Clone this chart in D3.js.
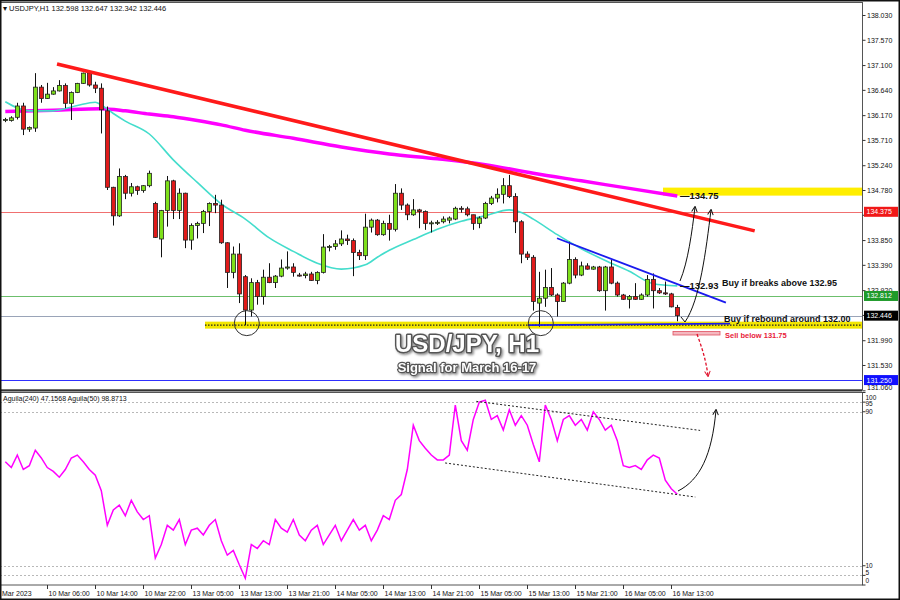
<!DOCTYPE html>
<html><head><meta charset="utf-8">
<script src="https://cdn.jsdelivr.net/npm/d3@7"></script>
<style>
body{margin:0;background:#fff}
svg{display:block}
text{font-family:"Liberation Sans",Arial,sans-serif}
</style>
</head><body><svg id="c" width="900" height="600"></svg>
<script>
// ---- DATA ----
const opens=[136.08,136.07,136.13,136.34,135.91,135.93,136.69,136.48,136.56,136.62,136.72,136.39,136.59,136.76,136.95,136.73,136.67,136.25,134.83,134.30,135.03,134.72,134.84,134.77,134.86,134.53,133.87,134.40,134.95,134.40,134.72,133.85,134.12,134.16,134.38,134.53,134.50,133.80,133.25,133.59,133.17,132.55,133.06,132.80,133.16,133.06,133.18,133.33,133.35,133.20,133.19,133.22,133.10,133.25,133.72,133.73,133.78,133.87,133.84,133.62,133.56,134.09,134.22,133.95,134.16,134.05,134.72,134.50,134.32,134.41,134.38,134.16,134.17,134.19,134.22,134.24,134.44,134.43,134.32,134.16,134.26,134.53,134.63,134.70,134.86,134.66,134.19,133.59,133.53,132.68,132.77,132.97,132.83,132.71,133.05,133.49,133.20,133.37,133.31,133.35,132.91,133.35,133.05,132.83,132.75,132.80,132.75,132.83,133.12,132.91,132.87,132.85,132.598];
const highs=[136.12,136.15,136.40,136.40,135.96,136.95,136.73,136.77,136.69,136.82,136.76,136.61,136.77,136.96,136.98,136.79,136.76,136.33,134.84,135.18,135.06,134.91,134.86,134.87,135.14,134.56,134.41,135.04,134.97,134.81,134.73,134.16,134.19,134.41,134.55,134.69,134.60,133.81,133.73,133.79,133.20,133.14,133.11,133.30,133.42,133.20,133.49,133.64,133.42,133.24,133.26,133.26,133.27,133.96,133.76,133.85,134.03,133.95,133.88,133.67,134.34,134.25,134.24,134.21,134.32,134.89,134.81,134.53,134.61,134.43,134.40,134.21,134.22,134.29,134.29,134.47,134.48,134.47,134.32,134.29,134.56,134.67,134.81,135.00,135.06,134.72,134.22,133.64,133.57,133.26,133.30,133.33,132.86,133.07,133.82,133.53,133.45,133.42,133.37,133.37,133.37,133.48,133.08,132.85,132.83,133.05,132.86,133.20,133.23,132.96,133.08,132.87,132.647];
const lows=[136.04,136.05,136.09,135.80,135.86,135.86,136.40,136.47,136.55,136.61,136.30,136.08,136.58,136.75,136.70,136.58,135.83,134.78,134.12,134.28,134.61,134.66,134.69,134.73,134.83,133.89,133.53,134.10,134.24,134.24,133.70,133.67,133.88,133.98,134.11,134.35,133.78,132.96,133.14,132.68,132.27,132.43,132.65,132.65,133.05,132.96,133.16,133.30,133.17,133.17,133.14,133.09,133.03,133.23,133.64,133.67,133.74,133.76,133.18,133.48,133.48,133.99,133.93,133.93,133.84,134.01,134.41,134.22,134.30,134.07,134.04,133.99,134.13,134.16,134.16,134.22,134.36,134.29,134.04,134.07,134.24,134.50,134.55,134.53,134.63,133.98,133.42,133.48,132.54,132.24,132.61,132.81,132.43,132.70,133.03,133.14,133.18,133.30,133.30,132.89,132.54,133.03,132.80,132.74,132.58,132.74,132.74,132.80,132.58,132.85,132.83,132.60,132.342];
const closes=[136.09,136.12,136.34,135.91,135.94,136.69,136.48,136.56,136.62,136.72,136.39,136.59,136.76,136.95,136.73,136.67,136.27,134.83,134.30,135.03,134.72,134.84,134.77,134.86,135.09,133.90,134.40,134.95,134.40,134.72,133.85,134.12,134.16,134.38,134.53,134.50,133.80,133.25,133.59,132.85,132.55,133.06,132.80,133.16,133.06,133.18,133.33,133.35,133.25,133.19,133.22,133.10,133.25,133.72,133.73,133.78,133.87,133.84,133.62,133.56,134.09,134.22,133.95,134.16,134.05,134.72,134.50,134.32,134.41,134.38,134.16,134.17,134.18,134.24,134.26,134.44,134.43,134.32,134.16,134.26,134.53,134.63,134.70,134.86,134.66,134.19,133.59,133.53,132.71,132.77,132.97,132.83,132.71,133.05,133.49,133.20,133.37,133.31,133.35,132.91,133.35,133.05,132.83,132.75,132.80,132.75,132.83,133.12,132.91,132.87,132.85,132.61,132.446];

const maFastIdx=[0,4,8,12,15,16,18,20,24,28,32,36,40,44,48,52,56,60,62,64,68,72,76,80,84,86,88,92,96,100,104,108,112];
const maFastVal=[136.42,136.25,136.25,136.35,136.41,136.36,136.20,136.06,135.82,135.34,134.92,134.52,134.24,133.89,133.64,133.42,133.31,133.39,133.53,133.66,133.86,134.05,134.20,134.30,134.41,134.36,134.24,133.95,133.69,133.47,133.27,133.04,133.00];
const maSlowIdx=[0,8,16,20,24,28,32,36,40,48,56,64,72,80,88,96,104,112];
const maSlowVal=[136.24,136.26,136.29,136.25,136.19,136.14,136.07,135.99,135.89,135.74,135.58,135.45,135.36,135.25,135.09,134.95,134.81,134.67];

const aguila=[64,61,67.5,60,62,70,66,61,59,56,60,66,67.5,64,60,57,49,31,39,41.5,36,44,38,34,36,14,21,31,28.5,34,21,28.5,29.5,26,31,34,23,15.5,18,10.5,3.5,21,19,23,21,34,29.5,27.5,34,26,23,28.5,31,21,26,31,23,28.5,34,28.5,31,23,28.5,36,34,44,47,60,83,75,71,67.5,65,65,67.5,93.5,75,70,86,95,96,86,88,80.5,91,83,88,83,73,64,93.5,86,75,86,88,83,86,80.5,90,86,80.5,83,75,62,61,62,60,65,67.5,66,54.5,50,47.16];

const priceTicks=[138.030,137.570,137.100,136.640,136.170,135.710,135.240,134.780,134.320,133.850,133.390,132.920,132.460,131.990,131.530,131.060];
const hiddenTicks=[134.320,132.460];
const timeTickIdx=[7,15,23,31,39,47,55,63,71,79,87,95,103,111];
const timeTickLabels=["10 Mar 06:00","10 Mar 14:00","10 Mar 22:00","13 Mar 05:00","13 Mar 13:00","13 Mar 21:00","14 Mar 05:00","14 Mar 13:00","14 Mar 21:00","15 Mar 05:00","15 Mar 13:00","15 Mar 21:00","16 Mar 05:00","16 Mar 13:00"];
const aguilaTicks=[100,95,90,10,5,0];
const aguilaLevels=[95,90,10,5];

const lastPrice=132.446, redLevel=134.375, greenLevel=132.812, blueLevel=131.250;
const supportLevel=132.27, targetLevel=134.75;
const redTrend=[[8.62,137.12],[124.9,134.02]];
const blueTrend=[[91.95,133.884],[120.1,132.688]];
const blueBase=[[87.1,132.27],[120.8,132.30]];
const aguilaUpper=[[78.5,95.4],[115.8,80.3]];
const aguilaLower=[[73.3,63.4],[115,45.7]];

// ---- SCALES ----
const svg=d3.select("#c");
const W=900,H=600, PR=862;
const x=d3.scaleLinear().domain([0,112]).range([5.3,677.3]);
const y=d3.scaleLinear().domain([131.06,138.03]).range([390.3,15]);
const yi=d3.scaleLinear().domain([0,100]).range([585,392.5]);

svg.append("rect").attr("width",W).attr("height",H).attr("fill","#fff");
const defs=svg.append("defs");
defs.append("clipPath").attr("id","cm").append("rect").attr("x",1).attr("y",3).attr("width",PR-1).attr("height",387);
defs.append("clipPath").attr("id","ci").append("rect").attr("x",1).attr("y",392).attr("width",PR-1).attr("height",193);
function mk(id,col){defs.append("marker").attr("id",id).attr("viewBox","0 0 10 10").attr("refX",8).attr("refY",5)
 .attr("markerWidth",7).attr("markerHeight",7).attr("orient","auto-start-reverse").attr("markerUnits","userSpaceOnUse")
 .append("path").attr("d","M1,1 L9,5 L1,9").attr("fill","none").attr("stroke",col).attr("stroke-width",1.4);}
mk("ab","#111");mk("ar","#e0102a");
const sh=defs.append("filter").attr("id","sh").attr("x","-10%").attr("y","-30%").attr("width","130%").attr("height","170%");
sh.append("feDropShadow").attr("dx",1.5).attr("dy",1.5).attr("stdDeviation",1).attr("flood-color","#000").attr("flood-opacity",0.45);

const main=svg.append("g").attr("clip-path","url(#cm)");
// horizontal lines
const hl=[[redLevel,"#f07070"],[greenLevel,"#6cbf6c"],[lastPrice,"#9aa4b8"],[blueLevel,"#3030ff"]];
hl.forEach(([v,c])=>main.append("line").attr("x1",0).attr("x2",PR).attr("y1",Math.round(y(v))+0.5).attr("y2",Math.round(y(v))+0.5).attr("stroke",c).attr("stroke-width",1));
// yellow target box
main.append("rect").attr("x",663).attr("y",y(targetLevel)-4).attr("width",PR-663).attr("height",8).attr("fill","#ffee00");
// yellow support band
main.append("rect").attr("x",205).attr("y",y(supportLevel)-3.5).attr("width",PR-205).attr("height",7).attr("fill","#f2e600");
main.append("line").attr("x1",205).attr("x2",PR).attr("y1",y(supportLevel)).attr("y2",y(supportLevel)).attr("stroke","#222").attr("stroke-width",1.4).attr("stroke-dasharray","1.5,1.5");

// moving averages
const lineGen=d3.line().x(d=>x(d[0])).y(d=>y(d[1])).curve(d3.curveMonotoneX);
main.append("path").attr("d",lineGen(maSlowIdx.map((d,i)=>[d,maSlowVal[i]]))).attr("fill","none").attr("stroke","#ff00ff").attr("stroke-width",3.5);
main.append("path").attr("d",lineGen(maFastIdx.map((d,i)=>[d,maFastVal[i]]))).attr("fill","none").attr("stroke","#44ddcc").attr("stroke-width",1.6);

// candles
const cg=main.append("g");
opens.forEach((o,i)=>{
  const cx=Math.round(x(i))+0.5, c=closes[i];
  cg.append("line").attr("x1",cx).attr("x2",cx).attr("y1",y(highs[i])).attr("y2",y(lows[i])).attr("stroke","#111").attr("stroke-width",1);
  const top=y(Math.max(o,c)), bot=y(Math.min(o,c));
  cg.append("rect").attr("x",cx-2).attr("y",top).attr("width",4).attr("height",Math.max(1,bot-top))
    .attr("fill",c>=o?"#7ee01a":"#e01a1a").attr("stroke","#222").attr("stroke-width",0.8);
});

// trendlines
const tl=(pts,col,w)=>main.append("line").attr("x1",x(pts[0][0])).attr("y1",y(pts[0][1])).attr("x2",x(pts[1][0])).attr("y2",y(pts[1][1])).attr("stroke",col).attr("stroke-width",w);
tl(redTrend,"#ff1a1a",3.5);
tl(blueTrend,"#1a1aee",1.8);
tl(blueBase,"#1a1aee",1.8);

// circles
[[40,supportLevel],[89,supportLevel]].forEach(([i,v])=>main.append("circle").attr("cx",x(i)+1.5).attr("cy",y(v)-2).attr("r",12.5).attr("fill","none").attr("stroke","#333").attr("stroke-width",1));

// arrows
main.append("path").attr("d","M680,281 C688,262 692,232 695,207").attr("fill","none").attr("stroke","#111").attr("stroke-width",1).attr("marker-end","url(#ab)");
main.append("path").attr("d","M681,317 L685,322 C700,300 706,250 711,210").attr("fill","none").attr("stroke","#111").attr("stroke-width",1).attr("marker-end","url(#ab)");
// sell box & arrow
main.append("rect").attr("x",673).attr("y",331.5).attr("width",47).attr("height",3.5).attr("fill","#f4b8c0").attr("stroke","#e05060").attr("stroke-width",0.8);
main.append("path").attr("d","M697,334 C702,348 706,360 708,376").attr("fill","none").attr("stroke","#e0102a").attr("stroke-width",1.3).attr("stroke-dasharray","3,2").attr("marker-end","url(#ar)");

// annotation texts
const at=(t,xx,yy,sz,col,wt)=>main.append("text").attr("x",xx).attr("y",yy).attr("font-size",sz).attr("font-weight",wt||"bold").attr("fill",col).text(t);
at("\u2014134.75",680,198.5,9.5,"#111");
at("\u2014132.93",680,289,9.5,"#111");
at("Buy if breaks above 132.95",722,285.5,9,"#111");
at("Buy if rebound around 132.00",724,321.5,9,"#111");
at("Sell below 131.75",725,337.5,7.5,"#e8203a");

// title
const tt=(t,yy,sz)=>{
  main.append("text").attr("x",467).attr("y",yy).attr("text-anchor","middle").attr("font-size",sz).attr("font-weight","bold")
   .attr("fill","#fff").attr("stroke","#555").attr("stroke-width",sz>15?3:2.4).attr("stroke-linejoin","round").attr("paint-order","stroke").attr("filter","url(#sh)").text(t);
};
tt("USD/JPY, H1",352,24);
tt("Signal for March 16-17",372,13);

// header text
svg.append("text").attr("x",3).attr("y",11).attr("font-size",7.5).attr("fill","#111").text("\u25BE USDJPY,H1  132.598 132.647 132.342 132.446");

// frames
svg.append("rect").attr("x",0.5).attr("y",2.5).attr("width",PR).attr("height",387.5).attr("fill","none").attr("stroke","#555").attr("stroke-width",1);
svg.append("line").attr("x1",0).attr("x2",PR).attr("y1",390.5).attr("y2",390.5).attr("stroke","#333").attr("stroke-width",2);
svg.append("rect").attr("x",0.5).attr("y",392.5).attr("width",PR).attr("height",192.5).attr("fill","none").attr("stroke","#555").attr("stroke-width",1);

// price axis
const pa=svg.append("g").attr("transform",`translate(${PR+0.5},0)`)
 .call(d3.axisRight(y).tickValues(priceTicks).tickSize(3).tickFormat(d=>hiddenTicks.includes(d)?"":d3.format(".3f")(d)));
pa.select(".domain").remove();
pa.selectAll("text").attr("font-size",7).attr("font-family","Liberation Sans, Arial").attr("fill","#111").attr("x",4.5);
pa.selectAll("line").attr("stroke","#333");
pa.selectAll(".tick").filter(d=>d===131.060).select("text").attr("dy","-0.1em");

// colored price labels
[[redLevel,"#f01818"],[greenLevel,"#1e9a2a"],[lastPrice,"#000"],[blueLevel,"#1010ff"]].forEach(([v,c])=>{
  svg.append("rect").attr("x",PR+2).attr("y",y(v)-5).attr("width",34).attr("height",10).attr("fill",c);
  svg.append("text").attr("x",PR+4.5).attr("y",y(v)+2.5).attr("font-size",7).attr("fill","#fff").text(d3.format(".3f")(v));
});

// indicator
const ind=svg.append("g").attr("clip-path","url(#ci)");
aguilaLevels.forEach(v=>ind.append("line").attr("x1",0).attr("x2",PR).attr("y1",Math.round(yi(v))+0.5).attr("y2",Math.round(yi(v))+0.5).attr("stroke","#b8b8b8").attr("stroke-dasharray","2,2"));
ind.append("path").attr("d",d3.line().x((d,i)=>x(i)).y(d=>yi(d))(aguila)).attr("fill","none").attr("stroke","#ff00ff").attr("stroke-width",1.5);
[aguilaUpper,aguilaLower].forEach(p=>ind.append("line").attr("x1",x(p[0][0])).attr("y1",yi(p[0][1])).attr("x2",x(p[1][0])).attr("y2",yi(p[1][1])).attr("stroke","#222").attr("stroke-width",1).attr("stroke-dasharray","2,2"));
ind.append("path").attr("d","M678,491 C700,480 712,455 716,410").attr("fill","none").attr("stroke","#111").attr("stroke-width",1).attr("marker-end","url(#ab)");
svg.append("text").attr("x",3).attr("y",401).attr("font-size",7).attr("fill","#111").text("Aguila(240) 47.1568  Aguila(50) 98.8713");
const ia=svg.append("g").attr("transform",`translate(${PR+0.5},0)`);
const labelY={100:399.5,95:406,90:414,10:567.5,5:575,0:582.5};
aguilaTicks.forEach(v=>{
  ia.append("line").attr("x1",0).attr("x2",3).attr("y1",yi(v)).attr("y2",yi(v)).attr("stroke","#333");
  ia.append("text").attr("x",3).attr("y",labelY[v]).attr("font-size",6.5).attr("font-family","Liberation Serif, Times New Roman, serif").attr("fill","#111").text(v);
});

// time axis
const ta=svg.append("g").attr("transform","translate(0,585)");
timeTickIdx.forEach((t,k)=>{
  const xx=Math.round(x(t))+0.5;
  ta.append("line").attr("x1",xx).attr("x2",xx).attr("y1",0).attr("y2",4).attr("stroke","#333");
  ta.append("text").attr("x",xx+1).attr("y",11).attr("font-size",7).attr("fill","#111").text(timeTickLabels[k]);
});
ta.append("text").attr("x",2).attr("y",11).attr("font-size",7).attr("fill","#111").text("Mar 2023");

// outer frame
svg.append("rect").attr("x",0.75).attr("y",0.75).attr("width",W-1.5).attr("height",H-1.5).attr("fill","none").attr("stroke","#111").attr("stroke-width",1.5);
</script>
</body></html>
